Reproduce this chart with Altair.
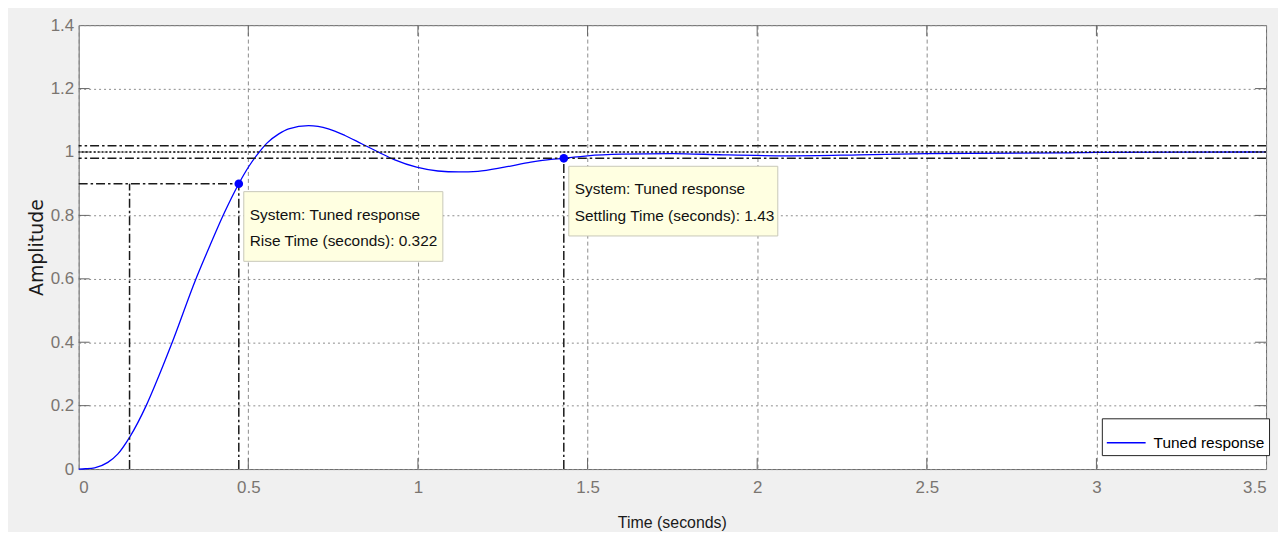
import altair as alt
import pandas as pd

# ---------------- data ----------------
curve_t = [0.0, 0.02, 0.047, 0.086, 0.115, 0.150, 0.199, 0.228, 0.277, 0.345,
           0.387, 0.428, 0.472, 0.502, 0.531, 0.555, 0.590, 0.619, 0.678,
           0.736, 0.785, 0.834, 0.883, 0.932, 0.996, 1.059, 1.120, 1.177, 1.255,
           1.333, 1.392, 1.430, 1.46, 1.50, 1.60, 1.75, 1.90, 2.10, 2.30,
           2.50, 2.90, 3.00, 3.50]
curve_a = [0.0, 0.001, 0.004, 0.021, 0.047, 0.100, 0.200, 0.272, 0.403,
           0.598, 0.705, 0.805, 0.900, 0.955, 0.998, 1.028, 1.057, 1.073, 1.083,
           1.073, 1.052, 1.026, 1.000, 0.975, 0.952, 0.940, 0.937, 0.939, 0.952,
           0.968, 0.977, 0.980, 0.984, 0.988, 0.993, 0.995, 0.991, 0.988, 0.991,
           0.995, 0.997, 0.999, 1.000]
series_name = "Tuned response"

x_ticks = [0, 0.5, 1, 1.5, 2, 2.5, 3, 3.5]
y_ticks = [0, 0.2, 0.4, 0.6, 0.8, 1.0, 1.2, 1.4]

rise_start_t = 0.150
rise_end_t = 0.472
rise_level = 0.9
settle_t = 1.43
settle_level = 0.98
band_levels = [1.02, 0.98]
final_value = [1.0]

tip_t = [rise_end_t, settle_t]
tip_a = [rise_level, settle_level]
tip_line1 = ["System: Tuned response", "System: Tuned response"]
tip_line2 = ["Rise Time (seconds): 0.322", "Settling Time (seconds): 1.43"]
tip_width = [200, 210]

# ---------------- styling ----------------
FONT = "Liberation Sans, Arial, sans-serif"
BLUE = "#0000ff"
DASHDOT = [9, 3, 2.5, 3]

xs = alt.Scale(domain=[0, 3.5], nice=False, zero=False)
ys = alt.Scale(domain=[0, 1.4], nice=False, zero=False)

curve_df = pd.DataFrame({"t": curve_t, "a": curve_a, "s": [series_name] * len(curve_t)})

x_axis = alt.Axis(values=x_ticks, format="~g", title="Time (seconds)", grid=True,
                  gridDash=[4, 3], gridColor="#8c8c8c", gridWidth=1, ticks=False,
                  domain=False, labelPadding=11, labelFont=FONT, labelFontSize=17,
                  labelColor="#7a7570", titleFont=FONT, titleFontSize=16,
                  titleColor="#1a1a1a", titleFontWeight="normal", titleX=596,
                  titleY=54, titleBaseline="middle", titleAlign="center")
y_axis = alt.Axis(values=y_ticks, format="~g", title="Amplitude", grid=True,
                  gridDash=[2, 3], gridColor="#8c8c8c", gridWidth=1, ticks=False,
                  domain=False, labelPadding=5, labelFont=FONT, labelFontSize=17,
                  labelColor="#7a7570", titleFont="DejaVu Sans", titleFontSize=19,
                  titleColor="#1a1a1a", titleFontWeight="normal", titleAngle=270,
                  titleX=-42, titleY=223, titleAlign="center", titleBaseline="middle")

line = alt.Chart(curve_df).mark_line(strokeWidth=1.3, interpolate="monotone").encode(
    x=alt.X("t:Q", scale=xs, axis=x_axis),
    y=alt.Y("a:Q", scale=ys, axis=y_axis),
    color=alt.Color("s:N", scale=alt.Scale(domain=[series_name], range=[BLUE]),
                    legend=alt.Legend(title=None, orient="none", legendX=1028, legendY=395,
                                      symbolType="stroke", symbolSize=1521,
                                      symbolStrokeWidth=1.5, labelFont=FONT,
                                      labelFontSize=15.5, labelColor="#000000",
                                      padding=4, strokeColor="#222222",
                                      fillColor="#ffffff", labelOffset=7)),
)

# inward ticks on all four sides
xt_df = pd.DataFrame({"t": x_ticks[1:-1]})
yt_df = pd.DataFrame({"a": y_ticks[1:-1]})
tick_style = dict(color="#666666", strokeWidth=1)
tick_bottom = alt.Chart(xt_df).mark_rule(y2Offset=-11, **tick_style).encode(
    x=alt.X("t:Q", scale=xs), y=alt.datum(0, scale=ys), y2=alt.datum(0))
tick_top = alt.Chart(xt_df).mark_rule(y2Offset=11, **tick_style).encode(
    x=alt.X("t:Q", scale=xs), y=alt.datum(1.4, scale=ys), y2=alt.datum(1.4))
tick_left = alt.Chart(yt_df).mark_rule(x2Offset=11, **tick_style).encode(
    y=alt.Y("a:Q", scale=ys), x=alt.datum(0, scale=xs), x2=alt.datum(0))
tick_right = alt.Chart(yt_df).mark_rule(x2Offset=-11, **tick_style).encode(
    y=alt.Y("a:Q", scale=ys), x=alt.datum(3.5, scale=xs), x2=alt.datum(3.5))

# settling band and final value
band = alt.Chart(pd.DataFrame({"a": band_levels})).mark_rule(
    color="#1a1a1a", strokeWidth=1.5, strokeDash=DASHDOT).encode(
    y=alt.Y("a:Q", scale=ys))
final = alt.Chart(pd.DataFrame({"a": final_value})).mark_rule(
    color="#111111", strokeWidth=1.4, strokeDash=[2, 2]).encode(
    y=alt.Y("a:Q", scale=ys))

# rise / settling markers
rise_h = alt.Chart(pd.DataFrame({"t": [0.0], "t1": [rise_end_t], "a": [rise_level]})).mark_rule(
    color="#1a1a1a", strokeWidth=1.5, strokeDash=DASHDOT).encode(
    x=alt.X("t:Q", scale=xs), x2="t1:Q", y=alt.Y("a:Q", scale=ys))
vert_df = pd.DataFrame({"t": [rise_start_t, rise_end_t, settle_t],
                        "a": [0.0, 0.0, 0.0],
                        "a1": [rise_level, rise_level, settle_level]})
verts = alt.Chart(vert_df).mark_rule(color="#1a1a1a", strokeWidth=1.5,
                                     strokeDash=DASHDOT).encode(
    x=alt.X("t:Q", scale=xs), y=alt.Y("a:Q", scale=ys), y2="a1:Q")

tip_df = pd.DataFrame({"t": tip_t, "a": tip_a, "l1": tip_line1, "l2": tip_line2,
                       "w": tip_width})
dots = alt.Chart(tip_df).mark_circle(size=75, color=BLUE, opacity=1).encode(
    x=alt.X("t:Q", scale=xs), y=alt.Y("a:Q", scale=ys))

boxes = []
for i in range(len(tip_t)):
    sub = tip_df.iloc[[i]]
    boxes.append(alt.Chart(sub).mark_rect(
        fill="#ffffe1", stroke="#c8c8b8", strokeWidth=1,
        xOffset=5, x2Offset=5 + int(tip_width[i]), yOffset=8, y2Offset=78).encode(
        x=alt.X("t:Q", scale=xs), x2="t:Q",
        y=alt.Y("a:Q", scale=ys), y2="a:Q"))

txt_style = dict(align="left", baseline="middle", font=FONT, fontSize=15.5, color="#111111")
txt1 = alt.Chart(tip_df).mark_text(dx=11, dy=31, **txt_style).encode(
    x=alt.X("t:Q", scale=xs), y=alt.Y("a:Q", scale=ys), text="l1:N")
txt2 = alt.Chart(tip_df).mark_text(dx=11, dy=58, **txt_style).encode(
    x=alt.X("t:Q", scale=xs), y=alt.Y("a:Q", scale=ys), text="l2:N")

chart = alt.layer(
    line, tick_bottom, tick_top, tick_left, tick_right, band, final, rise_h, verts,
    *boxes, txt1, txt2, dots
).properties(
    width=1193, height=446,
    autosize=alt.AutoSizeParams(type="none"),
    padding={"left": 71, "top": 16, "right": 12, "bottom": 62},
).configure(background="#f0f0f0").configure_view(
    fill="#ffffff", stroke="#666666", strokeWidth=1)

chart.save("out.html", embed_options={"renderer": "svg", "actions": False})
